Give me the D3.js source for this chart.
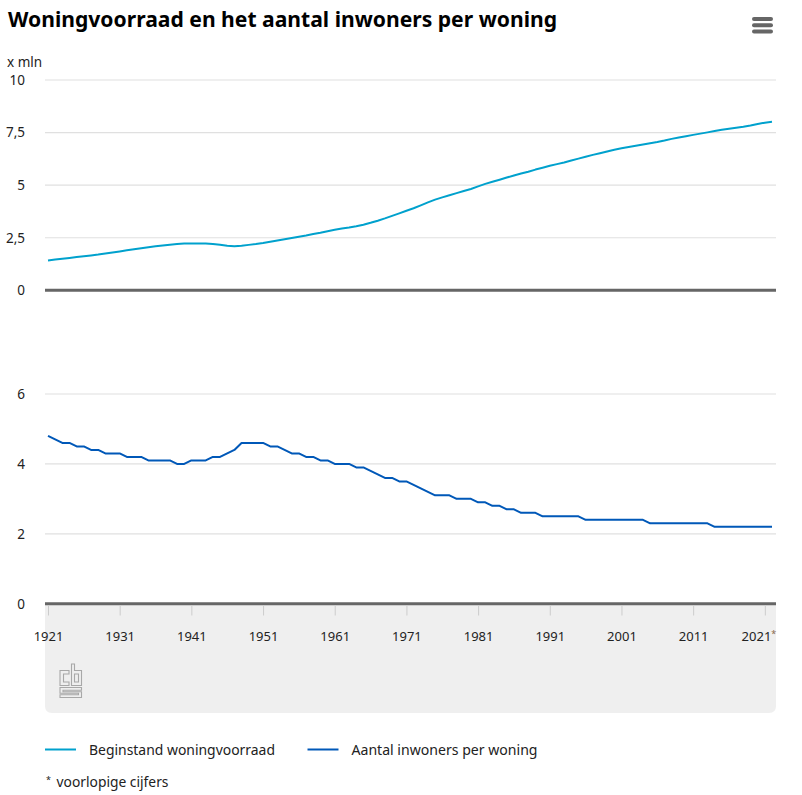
<!DOCTYPE html>
<html>
<head>
<meta charset="utf-8">
<script src="https://cdn.jsdelivr.net/npm/d3@7"></script>
<style>
  body { margin: 0; background: #fff; }
  text { font-family: "Noto Sans", sans-serif; }
</style>
</head>
<body>
<script>
const SVG_WIDTH = 802;
const SVG_HEIGHT = 795;

// years 1921 .. 2022 (2021 and 2022 provisional)
const years = d3.range(1921, 2023);

// beginstand woningvoorraad, x mln
const woningvoorraad = [
  1.42, 1.46, 1.50, 1.54, 1.58, 1.62, 1.66, 1.70, 1.75, 1.80,
  1.85, 1.90, 1.95, 2.00, 2.05, 2.09, 2.13, 2.17, 2.20, 2.22,
  2.23, 2.23, 2.22, 2.20, 2.17, 2.12, 2.10, 2.12, 2.16, 2.20,
  2.25, 2.31, 2.37, 2.43, 2.49, 2.55, 2.61, 2.68, 2.74, 2.81,
  2.88, 2.94, 2.99, 3.05, 3.12, 3.21, 3.31, 3.42, 3.54, 3.66,
  3.78, 3.90, 4.04, 4.18, 4.31, 4.42, 4.52, 4.62, 4.72, 4.82,
  4.94, 5.06, 5.16, 5.26, 5.36, 5.46, 5.55, 5.64, 5.74, 5.83,
  5.92, 6.00, 6.08, 6.17, 6.26, 6.35, 6.44, 6.52, 6.60, 6.68,
  6.75, 6.81, 6.87, 6.93, 6.99, 7.05, 7.12, 7.20, 7.27, 7.33,
  7.39, 7.45, 7.51, 7.57, 7.63, 7.68, 7.73, 7.78, 7.84, 7.91,
  7.97, 8.01
];

// aantal inwoners per woning
const inwonersPerWoning = [
  4.8, 4.7, 4.6, 4.6, 4.5, 4.5, 4.4, 4.4, 4.3, 4.3,
  4.3, 4.2, 4.2, 4.2, 4.1, 4.1, 4.1, 4.1, 4.0, 4.0,
  4.1, 4.1, 4.1, 4.2, 4.2, 4.3, 4.4, 4.6, 4.6, 4.6,
  4.6, 4.5, 4.5, 4.4, 4.3, 4.3, 4.2, 4.2, 4.1, 4.1,
  4.0, 4.0, 4.0, 3.9, 3.9, 3.8, 3.7, 3.6, 3.6, 3.5,
  3.5, 3.4, 3.3, 3.2, 3.1, 3.1, 3.1, 3.0, 3.0, 3.0,
  2.9, 2.9, 2.8, 2.8, 2.7, 2.7, 2.6, 2.6, 2.6, 2.5,
  2.5, 2.5, 2.5, 2.5, 2.5, 2.4, 2.4, 2.4, 2.4, 2.4,
  2.4, 2.4, 2.4, 2.4, 2.3, 2.3, 2.3, 2.3, 2.3, 2.3,
  2.3, 2.3, 2.3, 2.2, 2.2, 2.2, 2.2, 2.2, 2.2, 2.2,
  2.2, 2.2
];

const topTicks = [0, 2.5, 5, 7.5, 10];
const bottomTicks = [0, 2, 4, 6];
const yearTicks = [1921, 1931, 1941, 1951, 1961, 1971, 1981, 1991, 2001, 2011, 2021];
const seriesNames = ["Beginstand woningvoorraad", "Aantal inwoners per woning"];

const LIGHT_BLUE = "#00a1cd";
const DARK_BLUE = "#0058b8";
const PLOT_LEFT = 45;
const PLOT_RIGHT = 776;

const svg = d3
  .select("body")
  .append("svg")
  .attr("width", SVG_WIDTH)
  .attr("height", SVG_HEIGHT);

const x = d3.scaleLinear().domain([1921, 2022]).range([48, 772]);
const yTop = d3.scaleLinear().domain([0, 10]).range([290.3, 80]);
const yBottom = d3.scaleLinear().domain([0, 6]).range([603.7, 394]);

const commaFormat = d => String(d).replace(".", ",");

// title
svg.append("text")
  .attr("x", 8)
  .attr("y", 27)
  .attr("font-size", 21)
  .attr("font-weight", "bold")
  .attr("fill", "#000")
  .attr("textLength", 549)
  .attr("lengthAdjust", "spacingAndGlyphs")
  .text("Woningvoorraad en het aantal inwoners per woning");

// menu icon
svg.selectAll(".menu")
  .data([17, 23.3, 29.5])
  .enter()
  .append("rect")
  .attr("x", 752)
  .attr("y", d => d)
  .attr("width", 21)
  .attr("height", 4)
  .attr("rx", 2)
  .attr("fill", "#666");

svg.append("text")
  .attr("x", 7)
  .attr("y", 67)
  .attr("font-size", 13.5)
  .attr("fill", "#222")
  .text("x mln");

// grey band below x axis, rounded bottom corners
const r = 7;
svg.append("path")
  .attr("d", `M${PLOT_LEFT},604 H${PLOT_RIGHT} V${713 - r} Q${PLOT_RIGHT},713 ${PLOT_RIGHT - r},713 H${PLOT_LEFT + r} Q${PLOT_LEFT},713 ${PLOT_LEFT},${713 - r} Z`)
  .attr("fill", "#efefef");

const drawPanel = (y, ticks, values, color) => {
  svg.append("g")
    .selectAll("line")
    .data(ticks.filter(t => t !== 0))
    .enter()
    .append("line")
    .attr("x1", PLOT_LEFT)
    .attr("x2", PLOT_RIGHT)
    .attr("y1", d => y(d))
    .attr("y2", d => y(d))
    .attr("stroke", "#e0e0e0")
    .attr("stroke-width", 1.2);

  const axis = svg.append("g")
    .attr("transform", "translate(25,0)")
    .call(d3.axisLeft(y).tickValues(ticks).tickSize(0).tickPadding(0).tickFormat(commaFormat));
  axis.select(".domain").remove();
  axis.selectAll("text")
    .attr("font-family", "Noto Sans, sans-serif")
    .attr("font-size", 13.5)
    .attr("fill", "#222");

  svg.append("line")
    .attr("x1", PLOT_LEFT)
    .attr("x2", PLOT_RIGHT)
    .attr("y1", y(0))
    .attr("y2", y(0))
    .attr("stroke", "#666")
    .attr("stroke-width", 3);

  svg.append("path")
    .datum(values)
    .attr("fill", "none")
    .attr("stroke", color)
    .attr("stroke-width", 2)
    .attr("stroke-linejoin", "round")
    .attr("d", d3.line().x((d, i) => x(years[i])).y(d => y(d)));
};

drawPanel(yTop, topTicks, woningvoorraad, LIGHT_BLUE);
drawPanel(yBottom, bottomTicks, inwonersPerWoning, DARK_BLUE);

// x axis
const xAxis = svg.append("g")
  .attr("transform", "translate(0,605.5)")
  .call(d3.axisBottom(x).tickValues(yearTicks).tickSize(10).tickFormat(d3.format("d")));
xAxis.select(".domain").remove();
xAxis.selectAll(".tick line").attr("stroke", "#ccc");
xAxis.selectAll(".tick text")
  .attr("y", 35.5)
  .attr("dy", 0)
  .attr("font-family", "Noto Sans, sans-serif")
  .attr("font-size", 13)
  .attr("fill", "#222");
xAxis.selectAll(".tick text")
  .filter(d => d === 2021)
  .attr("text-anchor", "end")
  .attr("x", 11)
  .call(t => t.append("tspan").attr("font-size", 9).attr("dy", -4).attr("fill", "#8a6a4a").text("*"));

// cbs logo
const logo = svg.append("g")
  .attr("fill", "none")
  .attr("stroke", "#a8a8a8")
  .attr("stroke-width", 1.1);
logo.append("path").attr("d", "M69,670.5 H60 V685.5 H69 V682 H63.5 V674 H69 Z");
logo.append("path").attr("d", "M71.5,664 H74.5 V670.5 H81.5 V685.5 H71.5 Z M74.5,674 V682 H78.5 V674 Z");
logo.append("path").attr("d", "M60,687.5 H81.5 V690.3 H63 V691.8 H81.5 V697.5 H60 V694.8 H78.5 V693.3 H60 Z");

// legend
const legend = svg.append("g")
  .selectAll("g")
  .data(seriesNames)
  .enter()
  .append("g")
  .attr("transform", (d, i) => `translate(${i === 0 ? 45 : 307.5},749.5)`);
legend.append("line")
  .attr("x1", 0)
  .attr("x2", 31)
  .attr("stroke", (d, i) => i === 0 ? LIGHT_BLUE : DARK_BLUE)
  .attr("stroke-width", 2);
legend.append("text")
  .attr("x", 44)
  .attr("y", 5)
  .attr("font-size", 14)
  .attr("fill", "#222")
  .attr("textLength", 186)
  .attr("lengthAdjust", "spacingAndGlyphs")
  .text(d => d);

// footnote
const note = svg.append("text")
  .attr("x", 46)
  .attr("y", 787)
  .attr("font-size", 14)
  .attr("fill", "#222");
note.append("tspan").attr("font-size", 9).attr("dy", -4).text("*");
note.append("tspan").attr("x", 56.5).attr("dy", 4).attr("textLength", 112).attr("lengthAdjust", "spacingAndGlyphs").text("voorlopige cijfers");
</script>
</body>
</html>
